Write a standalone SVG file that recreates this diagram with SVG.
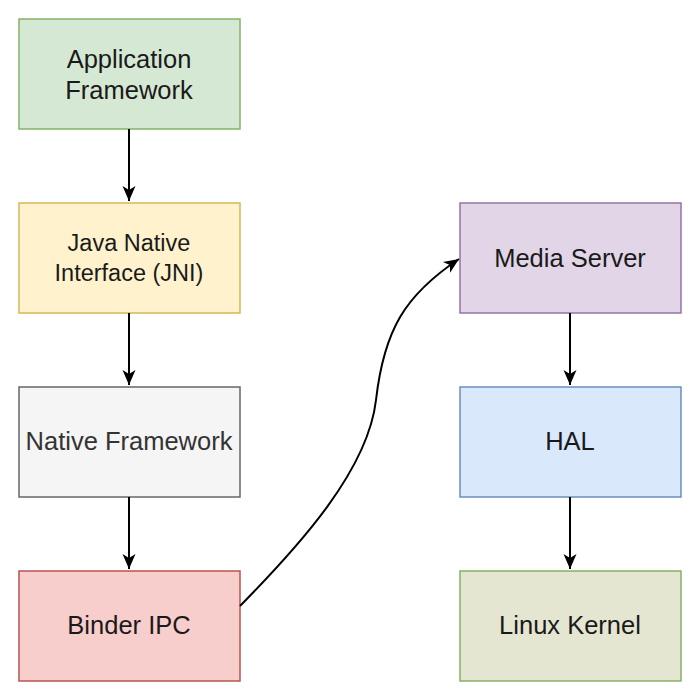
<svg xmlns="http://www.w3.org/2000/svg" width="700" height="700" viewBox="0 0 700 700">
<style>
.box{stroke-width:1.5}
.t{font-family:"Liberation Sans",Arial,Helvetica,sans-serif;font-size:25.5px;fill:#1a1a1a;text-anchor:middle}
.s{font-size:23.5px}
.edge{fill:none;stroke:#000;stroke-width:2}
</style>
<defs>
<marker id="arr" viewBox="0 0 16 16" refX="15" refY="8" markerWidth="16" markerHeight="16" markerUnits="userSpaceOnUse" orient="auto">
<path d="M0,1.5 L15,8 L0,14.5 L4,8 Z" fill="#000"/>
</marker>
</defs>
<rect width="700" height="700" fill="#fff"/>
<g id="n-app"><rect class="box" x="19" y="19" width="221" height="110" fill="#d5e8d4" stroke="#82b366"/><text class="t" x="129" y="68">Application</text><text class="t" x="129" y="99">Framework</text></g>
<g id="n-jni"><rect class="box" x="19" y="203" width="221" height="110" fill="#fff2cc" stroke="#d6b656"/><text class="t s" x="129" y="251">Java Native</text><text class="t s" x="129" y="281">Interface (JNI)</text></g>
<g id="n-native"><rect class="box" x="19" y="387" width="221" height="110" fill="#f5f5f5" stroke="#666666"/><text class="t" x="129" y="450" style="fill:#333">Native Framework</text></g>
<g id="n-binder"><rect class="box" x="19" y="571" width="221" height="110" fill="#f8cecc" stroke="#b85450"/><text class="t" x="129" y="634">Binder IPC</text></g>
<g id="n-media"><rect class="box" x="460" y="203" width="221" height="110" fill="#e1d5e7" stroke="#9673a6"/><text class="t" x="570" y="267">Media Server</text></g>
<g id="n-hal"><rect class="box" x="460" y="387" width="221" height="110" fill="#dae8fc" stroke="#6c8ebf"/><text class="t" x="570" y="450">HAL</text></g>
<g id="n-kernel"><rect class="box" x="460" y="571" width="221" height="110" fill="#e5e6d1" stroke="#82b366"/><text class="t" x="570" y="634">Linux Kernel</text></g>
<g id="edges">
<path class="edge" d="M129,129 L129,201" marker-end="url(#arr)"/>
<path class="edge" d="M129,313 L129,385" marker-end="url(#arr)"/>
<path class="edge" d="M129,497 L129,569" marker-end="url(#arr)"/>
<path class="edge" d="M570,313 L570,385" marker-end="url(#arr)"/>
<path class="edge" d="M570,497 L570,569" marker-end="url(#arr)"/>
<path class="edge" d="M240,606 C300,545 368,470 376,400 C384,330 405,295 459,259" marker-end="url(#arr)"/>
</g>
</svg>
